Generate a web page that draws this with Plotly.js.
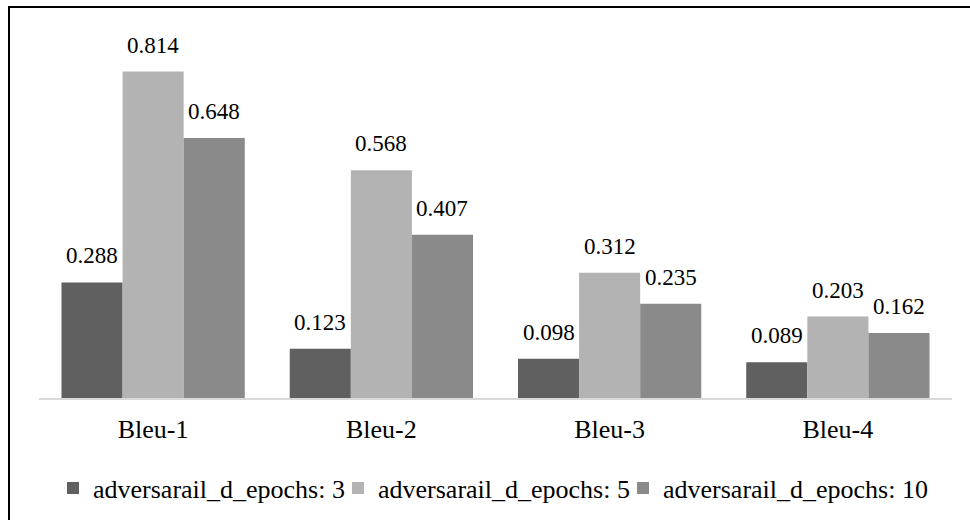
<!DOCTYPE html>
<html>
<head>
<meta charset="utf-8">
<script src="https://cdn.plot.ly/plotly-3.0.1.min.js"></script>
<style>
  html, body { margin: 0; padding: 0; background: #fff; }
  #wrap { position: relative; width: 970px; height: 520px; overflow: hidden; }
  #chart { position: absolute; left: 0; top: 0; width: 970px; height: 520px; z-index: 1; }
  #chart svg text { font-family: 'Liberation Serif', 'Times New Roman', serif !important; }
  #frame { position: absolute; left: 8px; top: 6px; width: 1000px; height: 600px; z-index: 2;
           border-top: 2px solid #000; border-left: 2px solid #000; pointer-events: none; }
</style>
</head>
<body>
<div id="wrap">
  <div id="chart"></div>
  <div id="frame"></div>
</div>
<script>
const categories = ["Bleu-1", "Bleu-2", "Bleu-3", "Bleu-4"];
const seriesNames = ["adversarail_d_epochs: 3", "adversarail_d_epochs: 5", "adversarail_d_epochs: 10"];
const epochs3 = [0.288, 0.123, 0.098, 0.089];
const epochs5 = [0.814, 0.568, 0.312, 0.203];
const epochs10 = [0.648, 0.407, 0.235, 0.162];

const seriesValues = [epochs3, epochs5, epochs10];
const colors = ["#606060", "#b3b3b3", "#8a8a8a"];
const legendWidths = [240, 240, 275];
const FONT = "Liberation Serif";

const traces = seriesValues.map((vals, i) => ({
  type: "bar",
  name: seriesNames[i],
  x: categories,
  y: vals,
  legendwidth: legendWidths[i],
  marker: { color: colors[i], line: { width: 0 } },
  hoverinfo: "x+y+name"
}));

// value labels above each bar (offset per group slot)
const barPx = 61;
const annotations = [];
seriesValues.forEach((vals, i) => {
  vals.forEach((v, j) => {
    annotations.push({
      x: categories[j], y: v, xref: "x", yref: "y",
      text: v.toFixed(3), showarrow: false,
      xanchor: "center", yanchor: "bottom",
      xshift: (i - 1) * barPx, yshift: 12,
      font: { family: FONT, size: 23, color: "#000" }
    });
  });
});

const layout = {
  width: 970, height: 520,
  margin: { l: 39, r: 18, t: 37, b: 122 },
  paper_bgcolor: "#fff", plot_bgcolor: "#fff",
  barmode: "group", bargap: 0.197, bargroupgap: 0,
  font: { family: FONT, size: 23, color: "#000" },
  xaxis: {
    type: "category",
    showline: true, linecolor: "#d9d9d9", linewidth: 1.5,
    showgrid: false, zeroline: false, ticks: "",
    ticklabelstandoff: 7,
    tickfont: { family: FONT, size: 26, color: "#000" }
  },
  yaxis: {
    range: [0, 0.9], visible: false, showgrid: false, zeroline: false
  },
  showlegend: true,
  legend: {
    orientation: "h",
    xref: "container", yref: "container",
    x: 53 / 970, xanchor: "left",
    y: 1 - 488 / 520, yanchor: "middle",
    entrywidthmode: "pixels",
    font: { family: FONT, size: 26, color: "#000" },
    bgcolor: "rgba(0,0,0,0)"
  },
  annotations: annotations
};

Plotly.newPlot("chart", traces, layout, { displayModeBar: false, staticPlot: true });
</script>
</body>
</html>
